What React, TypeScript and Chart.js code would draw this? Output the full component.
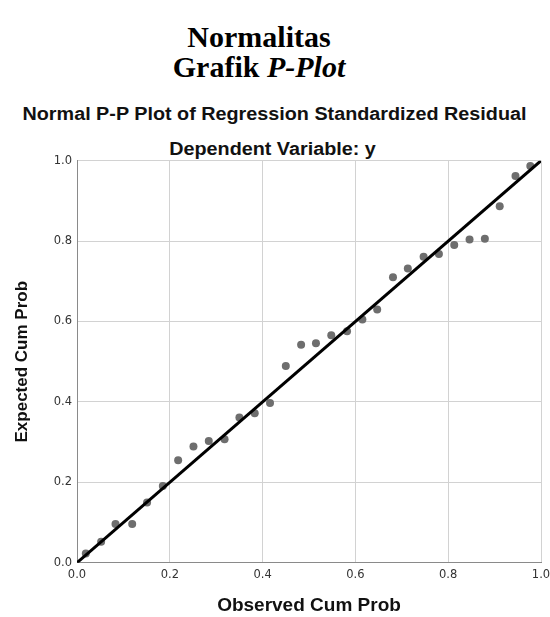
import React, { useEffect, useRef } from "react";
import { Chart, registerables } from "chart.js";

Chart.register(...registerables);

const observedCumProb = [
  0.019, 0.052, 0.083, 0.119, 0.151, 0.185, 0.218, 0.251, 0.284, 0.318,
  0.35, 0.383, 0.416, 0.45, 0.483, 0.515, 0.548, 0.582, 0.615, 0.647,
  0.681, 0.713, 0.747, 0.78, 0.813, 0.846, 0.879, 0.911, 0.945, 0.977,
];
const expectedCumProb = [
  0.023, 0.052, 0.096, 0.096, 0.15, 0.191, 0.255, 0.289, 0.303, 0.307,
  0.361, 0.372, 0.397, 0.489, 0.542, 0.546, 0.566, 0.576, 0.605, 0.63,
  0.71, 0.732, 0.761, 0.768, 0.79, 0.804, 0.806, 0.887, 0.962, 0.987,
];
const referenceLineX = [0, 1];
const referenceLineY = [0, 1];
const axisMin = 0;
const axisMax = 1;
const tickStep = 0.2;

const heading1 = "Normalitas";
const heading2Plain = "Grafik ";
const heading2Italic = "P-Plot";
const chartTitle = "Normal P-P Plot of Regression Standardized Residual";
const chartSubtitle = "Dependent Variable: y";
const xTitle = "Observed Cum Prob";
const yTitle = "Expected Cum Prob";

const SANS = "'Liberation Sans', Arial, sans-serif";
const SERIF = "'Liberation Serif', 'Times New Roman', serif";
const TICK_FONT = "'DejaVu Sans', sans-serif";

export default function App() {
  const canvasRef = useRef<HTMLCanvasElement | null>(null);

  useEffect(() => {
    const canvas = canvasRef.current;
    if (!canvas) return;
    const points = observedCumProb.map((x, i) => ({ x, y: expectedCumProb[i] }));
    const line = referenceLineX.map((x, i) => ({ x, y: referenceLineY[i] }));

    const chart = new Chart(canvas, {
      type: "scatter",
      data: {
        datasets: [
          {
            type: "line",
            data: line,
            borderColor: "#000000",
            borderWidth: 3,
            pointRadius: 0,
            fill: false,
          } as any,
          {
            type: "scatter",
            data: points,
            backgroundColor: "#6e6e6e",
            borderWidth: 0,
            pointRadius: 4,
          },
        ],
      },
      options: {
        animation: false,
        responsive: false,
        maintainAspectRatio: false,
        layout: { padding: { top: 10.7, right: 0, left: 0, bottom: 0 } },
        plugins: {
          legend: { display: false },
          tooltip: { enabled: false },
          title: { display: false },
        },
        scales: {
          x: {
            type: "linear",
            min: axisMin,
            max: axisMax,
            ticks: {
              stepSize: tickStep,
              callback: (v: any) => Number(v).toFixed(1),
              font: { family: TICK_FONT, size: 11.5 },
              color: "#333333",
              padding: 5,
              maxRotation: 0,
              autoSkip: false,
            },
            grid: { color: "#d2d2d2", lineWidth: 1, drawTicks: false },
            border: { color: "#8a8a8a", width: 1 },
            title: {
              display: true,
              text: xTitle,
              font: { family: SANS, size: 19, weight: "bold" },
              color: "#111111",
              padding: { top: 0, bottom: 0 },
            },
            afterFit: (s: any) => {
              s.height = 54.3;
              s.paddingRight = 9;
              s.paddingLeft = 0;
            },
          },
          y: {
            type: "linear",
            min: axisMin,
            max: axisMax,
            ticks: {
              stepSize: tickStep,
              callback: (v: any) => Number(v).toFixed(1),
              font: { family: TICK_FONT, size: 11.5 },
              color: "#333333",
              padding: 5,
            },
            grid: { color: "#d2d2d2", lineWidth: 1, drawTicks: false },
            border: { color: "#8a8a8a", width: 1 },
            title: {
              display: true,
              text: yTitle,
              font: { family: SANS, size: 17, weight: "bold" },
              color: "#111111",
              padding: { top: 12.4, bottom: 0 },
            },
            afterFit: (s: any) => {
              s.width = 77;
              s.paddingTop = 0;
              s.paddingBottom = 0;
            },
          },
        },
      },
    });
    return () => chart.destroy();
  }, []);

  const abs = (top: number, extra: React.CSSProperties = {}): React.CSSProperties => ({
    position: "absolute",
    left: 0,
    top,
    width: 518,
    textAlign: "center",
    whiteSpace: "nowrap",
    margin: 0,
    ...extra,
  });

  const sansTitle: React.CSSProperties = {
    fontFamily: SANS,
    fontWeight: "bold",
    fontSize: 17.5,
    lineHeight: "17.5px",
    color: "#111",
    transform: "scaleX(1.13)",
    transformOrigin: "center center",
  };

  return (
    <div
      style={{
        position: "absolute",
        left: 0,
        top: 0,
        width: 550,
        height: 617,
        background: "#ffffff",
        overflow: "hidden",
      }}
    >
      <div style={abs(21.6, { fontFamily: SERIF, fontWeight: "bold", fontSize: 30, lineHeight: "30px", color: "#000" })}>
        {heading1}
      </div>
      <div style={abs(52.4, { fontFamily: SERIF, fontWeight: "bold", fontSize: 30, lineHeight: "30px", color: "#000" })}>
        {heading2Plain}
        <i>{heading2Italic}</i>
      </div>
      <div style={abs(106, { width: 549, ...sansTitle })}>{chartTitle}</div>
      <div style={abs(140.5, { width: 545, ...sansTitle })}>{chartSubtitle}</div>
      <canvas
        ref={canvasRef}
        width={550}
        height={467}
        style={{ position: "absolute", left: 0, top: 150, width: 550, height: 467 }}
      />
    </div>
  );
}
